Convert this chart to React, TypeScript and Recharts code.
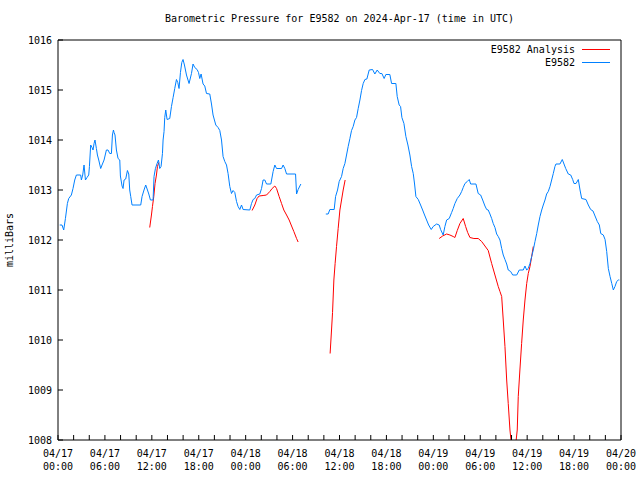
import { LineChart, Line, XAxis, YAxis, Legend } from 'recharts';

// hours since 2024-04-17 00:00 UTC, null = gap in the record
const stationHours = [
  0.22, 0.51, 0.73, 0.95, 1.2, 1.37, 1.71, 1.92, 2.14, 2.35, 2.9, 2.99, 3.16, 3.33, 3.51, 3.71, 3.93,
  4.02, 4.18, 4.35, 4.48, 4.61, 4.73, 4.91, 5.04, 5.21, 5.46, 5.63, 5.89, 6.19, 6.4, 6.62, 6.83, 6.96,
  7.09, 7.17, 7.29, 7.47, 7.68, 7.9, 7.98, 8.19, 8.32, 8.45, 8.66, 8.88, 9.05, 9.17, 9.3, 9.47, 10.58,
  10.75, 11.0, 11.22, 11.44, 11.61, 11.82, 12.16, 12.28, 12.46, 12.67, 12.85, 13.01, 13.18, 13.36,
  13.44, 13.56, 13.65, 13.78, 13.95, 14.29, 14.51, 14.72, 14.93, 15.15, 15.32, 15.48, 15.66, 15.83,
  15.99, 16.17, 16.43, 16.76, 17.07, 17.27, 17.49, 17.79, 17.97, 18.13, 18.3, 18.55, 18.77, 18.99,
  19.41, 19.63, 19.83, 20.18, 20.47, 20.69, 20.91, 21.11, 21.33, 21.55, 21.75, 21.97, 22.19, 22.39,
  22.61, 22.83, 23.03, 23.25, 23.47, 23.67, 24.53, 24.75, 24.95, 25.17, 25.39, 25.81, 26.03, 26.23,
  26.45, 26.67, 27.22, 27.51, 27.73, 27.95, 28.59, 28.79, 29.01, 29.23, 30.38, 30.51, 30.71, 30.93,
  31.06, 32.5,
  34.25, 34.55, 34.77, 35.32, 35.5, 35.75, 35.96, 36.26, 36.47, 36.69, 36.9, 37.11, 37.33, 37.54,
  37.75, 37.97, 38.18, 38.39, 38.61, 38.82, 39.03, 39.25, 39.5, 39.8, 40.23, 40.52, 40.82, 41.16,
  41.42, 41.71, 41.93, 42.44, 42.66, 43.21, 43.38, 43.63, 43.81, 43.98, 44.24, 44.49, 44.75, 45.0,
  45.22, 45.43, 45.6, 45.77, 46.07, 46.37, 46.63, 46.88, 47.14, 47.4, 47.73, 47.98, 48.42, 48.75,
  48.93, 49.26, 49.48, 49.7, 50.03, 50.34, 50.54, 50.76, 51.06, 51.4, 51.62, 51.82, 52.04, 52.34,
  52.59, 52.77, 53.45, 53.74, 54.05, 54.31, 54.6, 54.82, 55.02, 55.24, 55.46, 55.66, 55.88, 56.1,
  56.3, 56.52, 56.74, 56.94, 57.16, 57.38, 57.58, 57.89, 58.15, 58.66, 58.99, 59.5, 59.72, 59.94,
  60.14, 60.36, 60.58, 60.78, 61.0, 61.22, 61.42, 61.64, 61.86, 62.06, 62.28, 62.49, 62.7, 62.92,
  63.13, 63.34, 63.55, 63.68, 64.19, 64.49, 64.71, 64.93, 65.26, 65.57, 65.82, 65.99, 66.25, 66.54,
  66.76, 66.97, 67.52, 67.82, 68.12, 68.42, 68.68, 68.97, 69.23, 69.41, 69.74, 69.96, 70.17, 70.38,
  70.6, 70.82, 71.02, 71.23, 71.45, 71.66, 71.79,
];

const stationPressure = [
  1012.3, 1012.3, 1012.2, 1012.43, 1012.73, 1012.83, 1012.9, 1013.03, 1013.2, 1013.3, 1013.3, 1013.2,
  1013.3, 1013.5, 1013.2, 1013.25, 1013.3, 1013.47, 1013.9, 1013.85, 1013.8, 1013.93, 1014.0, 1013.83,
  1013.7, 1013.6, 1013.43, 1013.5, 1013.6, 1013.8, 1013.8, 1013.73, 1013.73, 1014.1, 1014.2, 1014.15,
  1014.1, 1013.8, 1013.63, 1013.6, 1013.28, 1013.08, 1013.03, 1013.2, 1013.22, 1013.39, 1013.32,
  1013.0, 1012.87, 1012.7, 1012.7, 1012.87, 1013.0, 1013.1, 1013.0, 1012.92, 1012.8, 1012.8, 1013.27,
  1013.43, 1013.53, 1013.6, 1013.43, 1013.47, 1013.73, 1014.0, 1014.17, 1014.45, 1014.6, 1014.41,
  1014.43, 1014.67, 1014.85, 1015.03, 1015.21, 1015.15, 1015.03, 1015.35, 1015.55, 1015.61, 1015.5,
  1015.3, 1015.13, 1015.33, 1015.52, 1015.45, 1015.41, 1015.35, 1015.23, 1015.32, 1015.12, 1015.08,
  1014.93, 1014.92, 1014.72, 1014.5, 1014.3, 1014.25, 1014.19, 1014.0, 1013.67, 1013.57, 1013.5,
  1013.33, 1013.07, 1012.93, 1012.99, 1012.95, 1012.77, 1012.67, 1012.61, 1012.7, 1012.61, 1012.6,
  1012.73, 1012.81, 1012.83, 1012.9, 1012.92, 1013.03, 1013.2, 1013.2, 1013.12, 1013.12, 1013.37,
  1013.5, 1013.43, 1013.43, 1013.5, 1013.43, 1013.32, 1013.32, 1012.92, 1013.01, 1013.08, 1013.12,
  null,
  1012.52, 1012.52, 1012.61, 1012.61, 1012.87, 1013.0, 1013.17, 1013.27, 1013.43, 1013.53, 1013.7,
  1013.87, 1014.03, 1014.19, 1014.27, 1014.4, 1014.45, 1014.63, 1014.8, 1014.99, 1015.13, 1015.21,
  1015.22, 1015.4, 1015.41, 1015.32, 1015.4, 1015.33, 1015.33, 1015.23, 1015.31, 1015.31, 1015.13,
  1015.13, 1014.87, 1014.7, 1014.67, 1014.45, 1014.33, 1014.07, 1013.9, 1013.7, 1013.47, 1013.33,
  1013.12, 1012.87, 1012.81, 1012.7, 1012.6, 1012.5, 1012.4, 1012.3, 1012.21, 1012.27, 1012.32,
  1012.3, 1012.21, 1012.1, 1012.27, 1012.4, 1012.43, 1012.55, 1012.63, 1012.73, 1012.83, 1012.9,
  1012.97, 1013.05, 1013.13, 1013.17, 1013.21, 1013.12, 1013.12, 1012.93, 1012.9, 1012.8, 1012.68,
  1012.61, 1012.6, 1012.52, 1012.43, 1012.33, 1012.25, 1012.12, 1012.07, 1012.0, 1011.83, 1011.7,
  1011.61, 1011.52, 1011.4, 1011.37, 1011.3, 1011.3, 1011.4, 1011.4, 1011.48, 1011.4, 1011.43,
  1011.53, 1011.67, 1011.8, 1011.97, 1012.13, 1012.3, 1012.47, 1012.6, 1012.7, 1012.8, 1012.92,
  1012.97, 1013.07, 1013.2, 1013.33, 1013.47, 1013.52, 1013.52, 1013.61, 1013.52, 1013.43, 1013.32,
  1013.3, 1013.21, 1013.13, 1013.13, 1013.21, 1013.0, 1012.83, 1012.81, 1012.7, 1012.61, 1012.58,
  1012.48, 1012.37, 1012.3, 1012.13, 1012.1, 1012.01, 1011.77, 1011.43, 1011.27, 1011.13, 1011.0,
  1011.07, 1011.17, 1011.2, 1011.2,
];

const analysisHours = [
  11.73, 11.95, 12.08, 12.25, 12.41, 12.59, 12.72, 12.89, 18,
  24.82, 25.17, 25.46, 25.72, 26.23, 26.67, 27.09, 27.38, 27.73, 27.95, 28.28, 28.59, 28.88, 29.23,
  29.56, 29.87, 30.16, 30.51, 30.71, 32.5,
  34.8, 34.98, 35.11, 35.28, 35.44, 35.62, 35.83, 36.05, 36.26, 36.47, 36.72, 42,
  48.75, 49.19, 49.7, 50.12, 50.54, 50.76, 51.06, 51.4, 51.82, 52.13, 52.39, 52.68, 53.19, 53.74,
  54.18, 54.6, 55.02, 55.46, 55.88, 56.3, 56.52, 56.74, 56.94, 57.16, 57.38, 57.58, 57.8, 58.25,
  58.73, 58.86, 59.07, 59.29, 59.5, 59.72, 59.94, 60.14, 60.36, 60.58, 60.78,
];

const analysisPressure = [
  1012.25, 1012.5, 1012.67, 1012.87, 1013.13, 1013.3, 1013.47, 1013.55, null,
  1012.59, 1012.7, 1012.83, 1012.88, 1012.89, 1012.9, 1012.97, 1013.03, 1013.08, 1013.03, 1012.87,
  1012.73, 1012.6, 1012.5, 1012.4, 1012.28, 1012.17, 1012.03, 1011.96, null,
  1009.73, 1010.2, 1010.55, 1011.2, 1011.53, 1011.87, 1012.23, 1012.6, 1012.8, 1013.0, 1013.2, null,
  1012.03, 1012.08, 1012.12, 1012.1, 1012.07, 1012.05, 1012.19, 1012.33, 1012.43, 1012.27, 1012.15,
  1012.05, 1012.03, 1012.03, 1011.97, 1011.88, 1011.79, 1011.53, 1011.3, 1011.07, 1010.97, 1010.87,
  1010.4, 1009.87, 1009.2, 1008.73, 1008.2, 1007.5, 1008.2, 1008.87, 1009.4, 1009.93, 1010.4, 1010.8,
  1011.13, 1011.33, 1011.47, 1011.67, 1011.87,
];

const hourTicks = [
  0, 2, 4, 6, 8, 10, 12, 14, 16, 18, 20, 22, 24, 26, 28, 30, 32, 34, 36, 38, 40, 42, 44, 46, 48,
  50, 52, 54, 56, 58, 60, 62, 64, 66, 68, 70, 72,
];
const dayLabels = ['04/17', '04/18', '04/19', '04/20'];
const pressureTicks = [1008, 1009, 1010, 1011, 1012, 1013, 1014, 1015, 1016];

const FONT = '"DejaVu Sans Mono", "Liberation Mono", monospace';
const TICK = 5;

const stationData = stationHours.map((h, i) => ({ h, p: stationPressure[i] }));
const analysisData = analysisHours.map((h, i) => ({ h, p: analysisPressure[i] }));

// gnuplot style: tick marks point into the plot
const BottomTick = ({ x, y, payload }: any) => {
  const h = payload.value;
  const hh = String(h % 24).padStart(2, '0');
  return (
    <g>
      <line x1={x} x2={x} y1={y} y2={y - TICK} stroke="#000" />
      {h % 6 === 0 && (
        <text x={x} y={y} textAnchor="middle" fontFamily={FONT} fontSize={10} fill="#000">
          <tspan x={x} dy={17}>{dayLabels[Math.floor(h / 24)]}</tspan>
          <tspan x={x} dy={13}>{hh}:00</tspan>
        </text>
      )}
    </g>
  );
};

const TopTick = ({ x, y }: any) => <line x1={x} x2={x} y1={y} y2={y + TICK} stroke="#000" />;

const LeftTick = ({ x, y, payload }: any) => (
  <g>
    <line x1={x} x2={x + TICK} y1={y} y2={y} stroke="#000" />
    <text x={x - 6} y={y} dy={4} textAnchor="end" fontFamily={FONT} fontSize={10} fill="#000">
      {payload.value}
    </text>
  </g>
);

const RightTick = ({ x, y }: any) => <line x1={x} x2={x - TICK} y1={y} y2={y} stroke="#000" />;

const KeyBox = () => (
  <div style={{ fontFamily: FONT, fontSize: 10, color: '#000', lineHeight: '13px' }}>
    {[
      { name: 'E9582 Analysis', color: '#ff0000' },
      { name: 'E9582', color: '#0080ff' },
    ].map((row) => (
      <div key={row.name} style={{ display: 'flex', justifyContent: 'flex-end', alignItems: 'center' }}>
        <span>{row.name}</span>
        <span style={{ display: 'inline-block', width: 28, height: 1, background: row.color, marginLeft: 7 }} />
      </div>
    ))}
  </div>
);

export default function App() {
  return (
    <div style={{ position: 'absolute', left: 0, top: 0, width: 640, height: 480, background: '#fff' }}>
      <div
        style={{
          position: 'absolute', left: 58, top: 13, width: 563, textAlign: 'center',
          fontFamily: FONT, fontSize: 10, lineHeight: '12px', color: '#000',
        }}
      >
        Barometric Pressure for E9582 on 2024-Apr-17 (time in UTC)
      </div>
      <div
        style={{
          position: 'absolute', left: 10, top: 240, transform: 'translate(-50%, -50%) rotate(-90deg)',
          fontFamily: FONT, fontSize: 10, lineHeight: '12px', color: '#000', whiteSpace: 'nowrap',
        }}
      >
        milliBars
      </div>
      <LineChart width={640} height={480} margin={{ top: 39, right: 18, bottom: 0, left: 0 }}>
        <XAxis
          dataKey="h"
          type="number"
          domain={[0, 72]}
          ticks={hourTicks}
          allowDataOverflow
          height={40}
          interval={0}
          tickSize={0}
          tickMargin={0}
          axisLine={{ stroke: '#000' }}
          tickLine={false}
          tick={<BottomTick />}
        />
        <XAxis
          xAxisId="top"
          orientation="top"
          type="number"
          domain={[0, 72]}
          ticks={hourTicks}
          height={1}
          interval={0}
          tickSize={0}
          tickMargin={0}
          axisLine={{ stroke: '#000' }}
          tickLine={false}
          tick={<TopTick />}
        />
        <YAxis
          type="number"
          domain={[1008, 1016]}
          ticks={pressureTicks}
          allowDataOverflow
          width={58}
          interval={0}
          tickSize={0}
          tickMargin={0}
          axisLine={{ stroke: '#000' }}
          tickLine={false}
          tick={<LeftTick />}
        />
        <YAxis
          yAxisId="right"
          orientation="right"
          type="number"
          domain={[1008, 1016]}
          ticks={pressureTicks}
          width={1}
          interval={0}
          tickSize={0}
          tickMargin={0}
          axisLine={{ stroke: '#000' }}
          tickLine={false}
          tick={<RightTick />}
        />
        <Legend
          layout="vertical"
          align="center"
          verticalAlign="middle"
          content={<KeyBox />}
          wrapperStyle={{ top: 43, right: 30, left: 'auto', width: 200 }}
        />
        <Line
          data={analysisData}
          dataKey="p"
          name="E9582 Analysis"
          stroke="#ff0000"
          strokeWidth={1}
          dot={false}
          activeDot={false}
          connectNulls={false}
          isAnimationActive={false}
        />
        <Line
          data={stationData}
          dataKey="p"
          name="E9582"
          stroke="#0080ff"
          strokeWidth={1}
          dot={false}
          activeDot={false}
          connectNulls={false}
          isAnimationActive={false}
        />
      </LineChart>
    </div>
  );
}
